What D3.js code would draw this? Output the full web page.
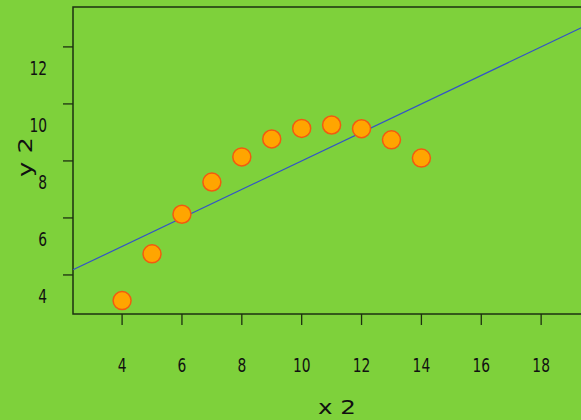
<!DOCTYPE html>
<html>
<head>
<meta charset="utf-8">
<script src="https://cdn.jsdelivr.net/npm/d3@7"></script>
<style>
  html, body { margin: 0; padding: 0; background: #7ed13b; }
  svg { display: block; }
</style>
</head>
<body>
<svg width="581" height="420"></svg>
<script>
// Anscombe set II
const xs = [10, 8, 13, 9, 11, 14, 6, 4, 12, 7, 5]
const ys = [9.14, 8.14, 8.74, 8.77, 9.26, 8.10, 6.13, 3.10, 9.13, 7.26, 4.74]
const xTicks = [4, 6, 8, 10, 12, 14, 16, 18]
const yTicks = [4, 6, 8, 10, 12]
const fit = [3.0, 0.5] // intercept, slope

const svg = d3.select('svg')
const plotL = 73, plotT = 7, plotB = 314, plotR = 601

const x = d3.scaleLinear().domain([2.36, 20]).range([plotL, plotR])
const y = d3.scaleLinear().domain([2.63, 13.4]).range([plotB, plotT])

const ink = '#1c3010'
const font = 'DejaVu Sans, sans-serif'

// frame
svg.append('rect')
  .attr('x', plotL).attr('y', plotT)
  .attr('width', plotR - plotL).attr('height', plotB - plotT)
  .attr('fill', 'none').attr('stroke', ink).attr('stroke-width', 1.5)

// x ticks
const xg = svg.append('g')
xg.selectAll('line').data(xTicks).join('line')
  .attr('x1', d => x(d)).attr('x2', d => x(d))
  .attr('y1', plotB).attr('y2', plotB + 11)
  .attr('stroke', ink).attr('stroke-width', 1.3)
xg.selectAll('text').data(xTicks).join('text')
  .attr('x', d => x(d)).attr('y', 372)
  .attr('text-anchor', 'middle')
  .attr('font-family', font).attr('font-size', 19)
  .attr('textLength', d => String(d).length * 8.8)
  .attr('lengthAdjust', 'spacingAndGlyphs')
  .attr('fill', '#111')
  .text(d => d)

// y ticks (labels sit below their tick marks, as in the original)
const yg = svg.append('g')
yg.selectAll('line').data(yTicks).join('line')
  .attr('x1', plotL - 10).attr('x2', plotL)
  .attr('y1', d => y(d)).attr('y2', d => y(d))
  .attr('stroke', ink).attr('stroke-width', 1.3)
yg.selectAll('text').data(yTicks).join('text')
  .attr('x', d => 47 - String(d).length * 8.8).attr('y', d => y(d) + 28)
  .attr('font-family', font).attr('font-size', 19)
  .attr('textLength', d => String(d).length * 8.8)
  .attr('lengthAdjust', 'spacingAndGlyphs')
  .attr('fill', '#111')
  .text(d => d)

// axis titles
svg.append('text')
  .attr('x', 337).attr('y', 414)
  .attr('text-anchor', 'middle')
  .attr('font-family', font).attr('font-size', 19)
  .attr('textLength', 38).attr('lengthAdjust', 'spacingAndGlyphs')
  .attr('fill', '#111')
  .text('x 2')

svg.append('text')
  .attr('transform', 'translate(32,157) rotate(-90)')
  .attr('text-anchor', 'middle')
  .attr('font-family', font).attr('font-size', 19)
  .attr('textLength', 40).attr('lengthAdjust', 'spacingAndGlyphs')
  .attr('fill', '#111')
  .text('y 2')

// regression line
const lx = x.domain()
svg.append('line')
  .attr('x1', x(lx[0])).attr('y1', y(fit[0] + fit[1] * lx[0]))
  .attr('x2', x(lx[1])).attr('y2', y(fit[0] + fit[1] * lx[1]))
  .attr('stroke', '#3353c8').attr('stroke-width', 1.2)

// points
svg.append('g').selectAll('circle').data(xs).join('circle')
  .attr('cx', d => x(d))
  .attr('cy', (d, i) => y(ys[i]))
  .attr('r', 9)
  .attr('fill', '#ffa500')
  .attr('stroke', '#f25a10')
  .attr('stroke-width', 1.5)
</script>
</body>
</html>
